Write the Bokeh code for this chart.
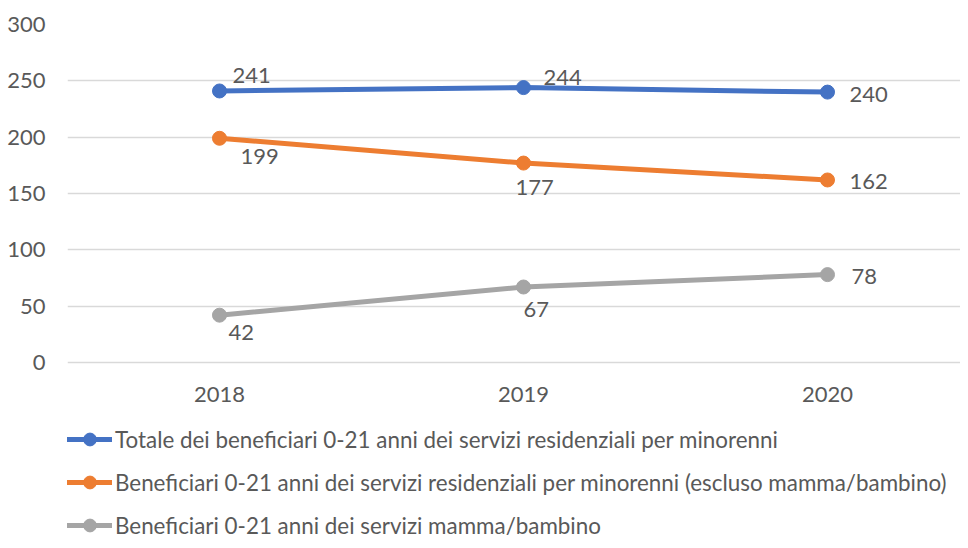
from bokeh.plotting import figure
from bokeh.models import Range1d, FixedTicker, ColumnDataSource, Legend, LegendItem
from bokeh.embed import file_html
from bokeh.resources import INLINE
from bokeh.core.properties import value

years = ["2018", "2019", "2020"]
totale = [241, 244, 240]
escluso = [199, 177, 162]
mamma = [42, 67, 78]
names = [
    "Totale dei beneficiari 0-21 anni dei servizi residenziali per minorenni",
    "Beneficiari 0-21 anni dei servizi residenziali per minorenni (escluso mamma/bambino)",
    "Beneficiari 0-21 anni dei servizi mamma/bambino",
]
y_ticks = [0, 50, 100, 150, 200, 250, 300]
colors = ["#4472C4", "#ED7D31", "#A5A5A5"]
series = [totale, escluso, mamma]
# label offsets (style): (dx, dy) in pixels per point
label_offsets = [
    [(13, -15), (20, -10), (22, 2)],
    [(21, 18), (-8, 24), (22, 2)],
    [(9, 17), (0, 22), (24, 2)],
]

TXT = "#595959"
FONT = "Lato"

xs = list(range(len(years)))

W, H = 960, 540
p = figure(width=W, height=H, output_backend="svg", toolbar_location=None,
           x_range=Range1d(-0.5, 2.4375), y_range=Range1d(-158, 300),
           min_border_left=67, min_border_right=0, min_border_top=24,
           min_border_bottom=0)
p.outline_line_color = None
p.background_fill_color = "white"
p.border_fill_color = "white"

p.xgrid.grid_line_color = None
p.ygrid.grid_line_color = "#D9D9D9"
p.ygrid.grid_line_width = 1.5
p.yaxis.ticker = FixedTicker(ticks=y_ticks)
p.xaxis.ticker = FixedTicker(ticks=xs)
p.xaxis.major_label_overrides = {i: y for i, y in enumerate(years)}
p.xaxis.fixed_location = 0

for ax in (p.xaxis, p.yaxis):
    ax.axis_line_color = None
    ax.major_tick_line_color = None
    ax.minor_tick_line_color = None
    ax.major_tick_out = 0
    ax.major_tick_in = 0
    ax.major_label_text_font = FONT
    ax.major_label_text_font_size = "22px"
    ax.major_label_text_color = TXT
p.xaxis.major_label_standoff = 25
p.yaxis.major_label_standoff = 22

items = []
for vals, name, col, offs in zip(series, names, colors, label_offsets):
    lr = p.line(xs, vals, line_color=col, line_width=5, line_cap="round",
                line_join="round")
    sr = p.scatter(xs, vals, size=14, fill_color=col, line_color=col)
    items.append(LegendItem(label=name, renderers=[lr, sr]))
    src = ColumnDataSource(dict(x=xs, y=vals, t=[str(v) for v in vals],
                                dx=[o[0] for o in offs], dy=[o[1] for o in offs]))
    p.text(x="x", y="y", text="t", source=src, x_offset="dx", y_offset="dy",
           text_align="left", text_baseline="middle",
           text_font=value(FONT), text_font_size="22px", text_color=TXT)

lg = Legend(items=items, location=(0, -1), orientation="vertical")
lg.border_line_color = None
lg.background_fill_alpha = 0
lg.padding = 0
lg.margin = 0
lg.glyph_width = 45
lg.glyph_height = 32
lg.label_height = 32
lg.spacing = 11
lg.label_standoff = 3
lg.label_text_font = FONT
lg.label_text_font_size = "22.4px"
lg.label_text_color = TXT
lg.click_policy = "none"
p.add_layout(lg, "center")

open("out.html", "w").write(file_html(p, INLINE))
